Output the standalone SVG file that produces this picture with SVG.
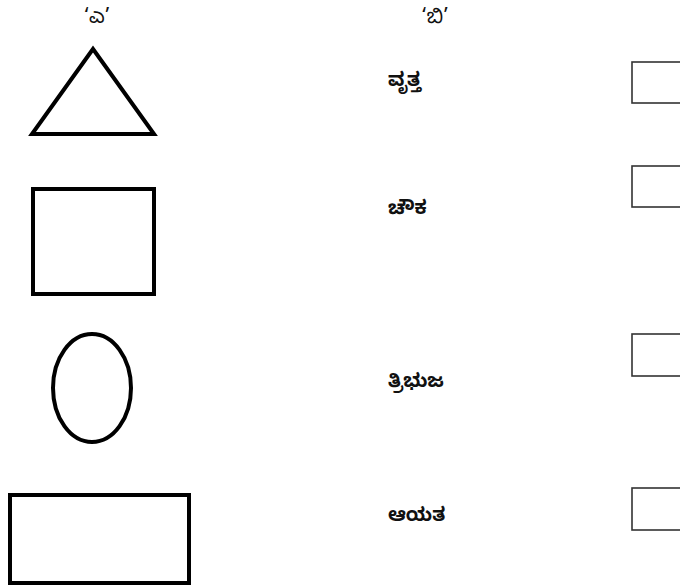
<svg xmlns="http://www.w3.org/2000/svg" width="680" height="587" viewBox="0 0 680 587">
<style>
.shape{fill:none;stroke:#000;stroke-width:4}
.box{fill:#fff;stroke:#333;stroke-width:1.6}
.t{font-family:"Noto Sans Kannada","Noto Sans",sans-serif;font-size:19px;font-weight:bold;fill:#111}
.h{font-family:"Noto Sans Kannada","Noto Sans",sans-serif;font-size:20px;fill:#111;text-anchor:middle}
</style>
<rect width="680" height="587" fill="#fff"/>
<g id="headers">
<text class="h" x="97" y="23">‘ಎ’</text>
<text class="h" x="435" y="23">‘ಬಿ’</text>
</g>
<g id="shape-triangle"><polygon class="shape" points="93,49 32,134 154,134"/></g>
<g id="shape-square"><rect class="shape" x="33" y="189" width="121" height="105"/></g>
<g id="shape-ellipse"><ellipse class="shape" cx="92" cy="388" rx="39" ry="54" stroke-width="3.5"/></g>
<g id="shape-rectangle"><rect class="shape" x="10" y="495" width="179" height="88" stroke-width="4.5"/></g>
<g id="label-1"><text class="t" x="388" y="86">ವೃತ್ತ</text></g>
<g id="label-2"><text class="t" x="388" y="214">ಚೌಕ</text></g>
<g id="label-3"><text class="t" x="388" y="387">ತ್ರಿಭುಜ</text></g>
<g id="label-4"><text class="t" x="388" y="521">ಆಯತ</text></g>
<g id="box-1"><rect class="box" x="632" y="62" width="60" height="41"/></g>
<g id="box-2"><rect class="box" x="632" y="166" width="60" height="41"/></g>
<g id="box-3"><rect class="box" x="632" y="334" width="60" height="42"/></g>
<g id="box-4"><rect class="box" x="632" y="488" width="60" height="42"/></g>
<g id="connectors"></g>
</svg>
